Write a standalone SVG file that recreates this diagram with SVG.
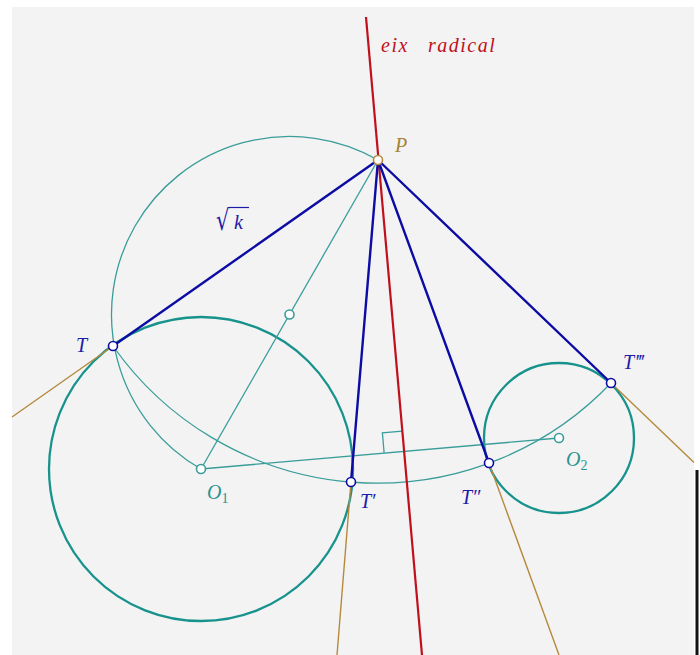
<svg xmlns="http://www.w3.org/2000/svg" width="700" height="655" viewBox="0 0 700 655">
<style>
.thick{fill:none;stroke:#17928c;stroke-width:2.3}
.thin{fill:none;stroke:#3a9d99;stroke-width:1.3}
.tan{fill:none;stroke:#b58a3c;stroke-width:1.4}
.red{fill:none;stroke:#c0101c;stroke-width:2.2}
.blue{fill:none;stroke:#0c0ca4;stroke-width:2.4;stroke-linecap:round}
.pt{fill:#ffffff;stroke-width:1.6}
.lbl{font-family:"Liberation Serif","DejaVu Serif",serif;font-style:italic;font-size:20px}
.lb{fill:#1c1ca8}
.lt{fill:#2a9490}
</style>
<rect x="12" y="7" width="682" height="648" fill="#f3f3f3"/>
<line x1="697" y1="470" x2="697" y2="655" stroke="#111" stroke-width="3"/>
<g id="circle-O1"><circle class="thick" cx="201" cy="469" r="152"/></g>
<g id="circle-O2"><circle class="thick" cx="559" cy="438" r="75"/></g>
<g id="connectors">
<path class="thin" d="M378,160 A178,178 0 0 0 201,469"/>
<path class="thin" d="M113,346 A323,323 0 0 0 611,383"/>
<line class="thin" x1="378" y1="160" x2="201" y2="469"/>
<line class="thin" x1="201" y1="469" x2="559" y2="438"/>
<polyline class="thin" points="384.1,452.7 382.4,432.8 402.3,431.1"/>
<line class="tan" x1="113" y1="346" x2="12" y2="417"/>
<line class="tan" x1="351" y1="482" x2="337" y2="655"/>
<line class="tan" x1="489" y1="463" x2="559" y2="655"/>
<line class="tan" x1="611" y1="383" x2="694" y2="462.5"/>
<line class="red" x1="366" y1="17" x2="422" y2="655"/>
<line class="blue" x1="378" y1="160" x2="113" y2="346"/>
<line class="blue" x1="378" y1="160" x2="351" y2="482"/>
<line class="blue" x1="378" y1="160" x2="489" y2="463"/>
<line class="blue" x1="378" y1="160" x2="611" y2="383"/>
</g>
<g id="label-axis"><text class="lbl" x="381" y="52" fill="#c0101c" font-size="21" letter-spacing="1.5">eix<tspan x="428">radical</tspan></text></g>
<g id="label-k">
<text transform="translate(216,230) scale(1,1.35)" font-family="DejaVu Serif, serif" font-size="21" fill="#1c1ca8">√</text>
<line x1="229" y1="207.5" x2="249" y2="207.5" stroke="#1c1ca8" stroke-width="1.2"/>
<text class="lbl lb" x="234" y="229">k</text>
</g>
<g id="node-P"><circle class="pt" cx="378" cy="160" r="4.5" stroke="#b58a3c"/><text class="lbl" x="395" y="152" fill="#a88334">P</text></g>
<g id="node-M"><circle class="pt" cx="289.5" cy="314.5" r="4.5" stroke="#3a9d99"/></g>
<g id="node-O1"><circle class="pt" cx="201" cy="469" r="4.5" stroke="#3a9d99"/><text class="lbl lt" x="207" y="499">O<tspan font-size="14" font-style="normal" dy="4">1</tspan></text></g>
<g id="node-O2"><circle class="pt" cx="559" cy="438" r="4.5" stroke="#3a9d99"/><text class="lbl lt" x="566" y="466">O<tspan font-size="14" font-style="normal" dy="4">2</tspan></text></g>
<g id="node-T"><circle class="pt" cx="113" cy="346" r="4.5" stroke="#0c0ca4"/><text class="lbl lb" x="76" y="352">T</text></g>
<g id="node-T1"><circle class="pt" cx="351" cy="482" r="4.5" stroke="#0c0ca4"/><text class="lbl lb" x="360" y="508">T′</text></g>
<g id="node-T2"><circle class="pt" cx="489" cy="463" r="4.5" stroke="#0c0ca4"/><text class="lbl lb" x="461" y="504">T″</text></g>
<g id="node-T3"><circle class="pt" cx="611" cy="383" r="4.5" stroke="#0c0ca4"/><text class="lbl lb" x="623" y="369" letter-spacing="1">T‴</text></g>
</svg>
